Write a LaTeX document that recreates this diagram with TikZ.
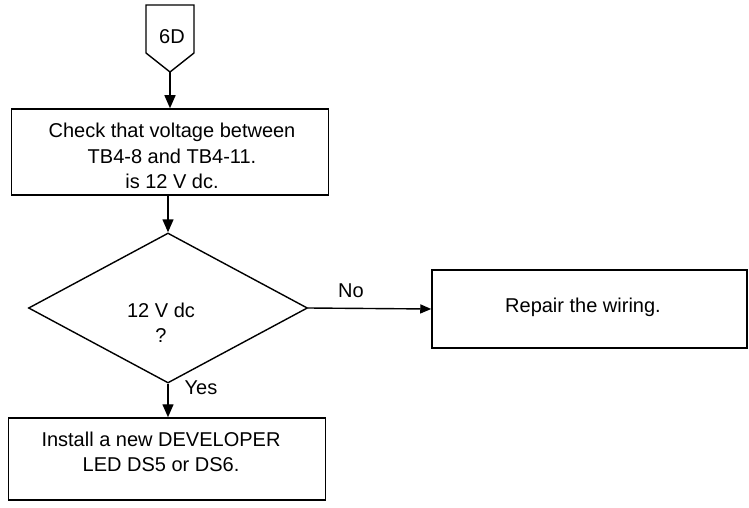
\documentclass[tikz,border=0pt]{standalone}
\usepackage{fontspec}
\setmainfont{Liberation Sans}
\usetikzlibrary{shapes.geometric,arrows.meta}
\begin{document}
\begin{tikzpicture}[x=1pt,y=-1pt,
  every node/.style={font=\fontsize{20}{25.5}\selectfont},
  box/.style={draw,line width=1.5pt,rectangle,inner sep=0pt},
  decision/.style={draw,line width=1.4pt,diamond,inner sep=0pt},
  txt/.style={align=center,inner sep=0pt},
  flow/.style={line width=1.4pt,-{Triangle[length=13pt,width=11pt]}},
  lbl/.style={inner sep=0pt}]
\useasboundingbox (0,0) rectangle (749,508);
% off-page connector
\draw[line width=1.4pt] (146,5) -- (146,53) -- (170,72) coordinate (tip) -- (194,53) -- (194,5) -- cycle;
\node[lbl] (conn) at (172,37) {6D};
% boxes
\node[box,minimum width=317pt,minimum height=86pt] (check) at (170,152) {};
\node[txt] (checktxt) at (172,156) {Check that voltage between\\TB4-8 and TB4-11.\\is 12 V dc.};
\node[decision,minimum width=279pt,minimum height=150pt] (dec) at (168,308) {};
\node[txt] (dectxt) at (161,323) {12 V dc\\?};
\node[box,minimum width=315pt,minimum height=78pt] (repair) at (589.5,309) {};
\node[txt] (repairtxt) at (583,307) {Repair the wiring.};
\node[box,minimum width=317pt,minimum height=82pt] (install) at (167,459) {};
\node[txt] (installtxt) at (161,452) {Install a new DEVELOPER\\LED DS5 or DS6.};
% connectors
\draw[flow] (tip) -- (tip |- check.north);
\draw[flow] (check.south -| dec.north) -- (dec.north);
\draw[line width=1.4pt,-{Triangle[length=11pt,width=9pt]}] (dec.east) -- (repair.west);
\draw[flow] (dec.south) -- (dec.south |- install.north);
% labels
\node[lbl] (no) at (351,291) {No};
\node[lbl] (yes) at (201,388) {Yes};
\end{tikzpicture}
\end{document}
